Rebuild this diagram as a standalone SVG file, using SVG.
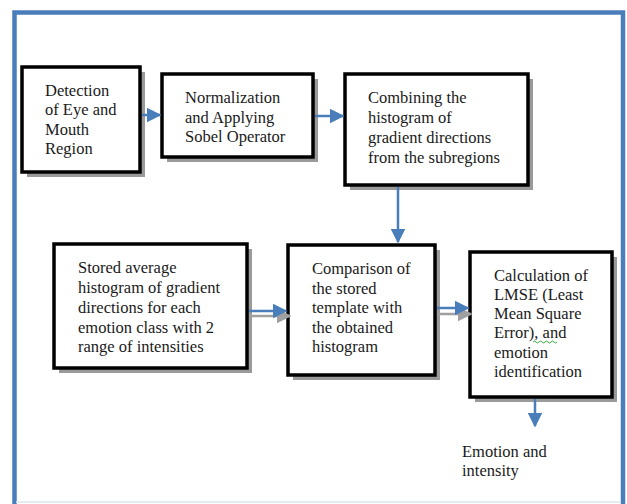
<svg xmlns="http://www.w3.org/2000/svg" width="627" height="504" viewBox="0 0 627 504">
<style>
.box{fill:#fff;stroke:#000;stroke-width:3.5}
.sh{fill:#9a9a9a}
.t{font-family:"Liberation Serif","Times New Roman",serif;font-size:16.5px;fill:#1a1a1a}
.c{stroke:#4a7ebb;stroke-width:2.5;fill:none}
.cs{stroke:#a0a0a0;stroke-width:2.5;fill:none}
</style>
<defs>
<marker id="ah" viewBox="0 0 10 10" refX="9" refY="5" markerWidth="6" markerHeight="6" orient="auto" markerUnits="strokeWidth"><path d="M0,0 L10,5 L0,10 z" fill="#4a7ebb"/></marker>
<marker id="ahs" viewBox="0 0 10 10" refX="9" refY="5" markerWidth="6" markerHeight="6" orient="auto" markerUnits="strokeWidth"><path d="M0,0 L10,5 L0,10 z" fill="#a0a0a0"/></marker>
</defs>
<rect x="0" y="0" width="627" height="504" fill="#fff"/>
<path d="M14.5,504 V12.5 H623 V504" fill="none" stroke="#4a7ebb" stroke-width="4.5"/>
<line x1="16" y1="502" x2="621" y2="502" stroke="#dde4ee" stroke-width="1.5"/>

<g id="n1">
<rect class="sh" x="27" y="72" width="118" height="105"/>
<rect class="box" x="22" y="67" width="118" height="105"/>
<text class="t" x="45"><tspan x="45" y="96">Detection</tspan><tspan x="45" y="115">of Eye and</tspan><tspan x="45" y="135">Mouth</tspan><tspan x="45" y="154">Region</tspan></text>
</g>
<g id="n2">
<rect class="sh" x="167" y="79" width="151" height="83"/>
<rect class="box" x="162" y="74" width="151" height="83"/>
<text class="t"><tspan x="185" y="103">Normalization</tspan><tspan x="185" y="123">and Applying</tspan><tspan x="185" y="142">Sobel Operator</tspan></text>
</g>
<g id="n3">
<rect class="sh" x="350" y="79" width="183" height="111"/>
<rect class="box" x="345" y="74" width="183" height="111"/>
<text class="t"><tspan x="368" y="103">Combining the</tspan><tspan x="368" y="123">histogram of</tspan><tspan x="368" y="143">gradient directions</tspan><tspan x="368" y="163">from the subregions</tspan></text>
</g>
<g id="n4">
<rect class="sh" x="59" y="249" width="193" height="124"/>
<rect class="box" x="54" y="244" width="193" height="124"/>
<text class="t"><tspan x="78" y="273">Stored average</tspan><tspan x="78" y="293">histogram of gradient</tspan><tspan x="78" y="313">directions for each</tspan><tspan x="78" y="333">emotion class with 2</tspan><tspan x="78" y="352">range of intensities</tspan></text>
</g>
<g id="n5">
<rect class="sh" x="293" y="250" width="147" height="130"/>
<rect class="box" x="288" y="245" width="147" height="130"/>
<text class="t"><tspan x="312" y="274">Comparison of</tspan><tspan x="312" y="294">the stored</tspan><tspan x="312" y="313">template with</tspan><tspan x="312" y="333">the obtained</tspan><tspan x="312" y="352">histogram</tspan></text>
</g>
<g id="n6">
<rect class="sh" x="475" y="257" width="142" height="145"/>
<rect class="box" x="470" y="252" width="142" height="145"/>
<text class="t"><tspan x="494" y="281">Calculation of</tspan><tspan x="494" y="300">LMSE (Least</tspan><tspan x="494" y="319">Mean Square</tspan><tspan x="494" y="338">Error), and</tspan><tspan x="494" y="358">emotion</tspan><tspan x="494" y="377">identification</tspan></text>
<path d="M533,342 q1.5,-2 3,0 t3,0 t3,0 t3,0 t3,0 t3,0 t3,0 t3,0" fill="none" stroke="#3aa83a" stroke-width="1"/>
</g>
<g id="out">
<text class="t"><tspan x="462" y="457">Emotion and</tspan><tspan x="462" y="476">intensity</tspan></text>
</g>

<g id="connectors">
<line class="c" x1="142" y1="115" x2="160" y2="115" marker-end="url(#ah)"/>
<line class="c" x1="315" y1="116" x2="343" y2="116" marker-end="url(#ah)"/>
<line class="c" x1="398" y1="187" x2="398" y2="242" marker-end="url(#ah)"/>
<line class="cs" x1="249" y1="316" x2="290" y2="316" marker-end="url(#ahs)"/>
<line class="c" x1="249" y1="311" x2="286" y2="311" marker-end="url(#ah)"/>
<line class="cs" x1="437" y1="314" x2="471" y2="314" marker-end="url(#ahs)"/>
<line class="c" x1="437" y1="308" x2="468" y2="308" marker-end="url(#ah)"/>
<line class="c" x1="535" y1="399" x2="535" y2="426" marker-end="url(#ah)"/>
</g>
</svg>
